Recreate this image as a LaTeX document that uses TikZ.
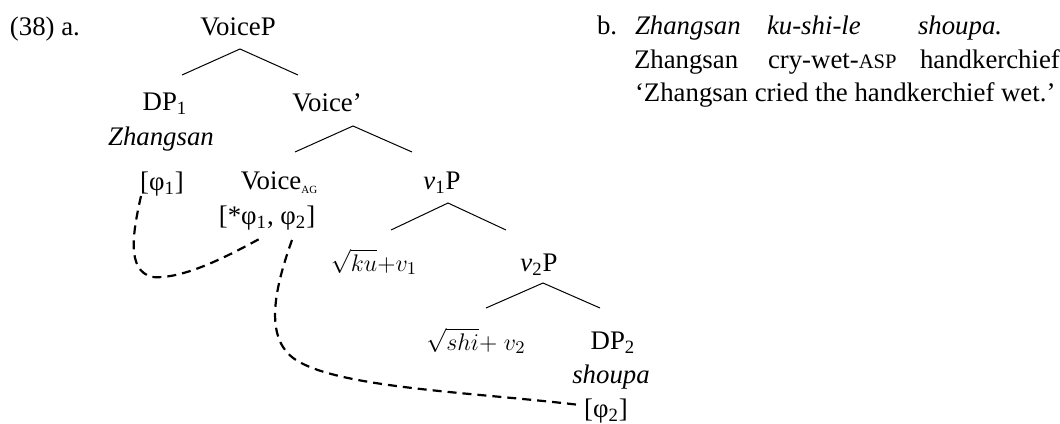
\documentclass[tikz,border=0pt]{standalone}
\usepackage{fontspec}
\setmainfont{Liberation Serif}
\begin{document}
\begin{tikzpicture}[x=0.5pt,y=-0.5pt,
  lbl/.style={anchor=base,inner sep=0pt,outer sep=0pt,font=\fontsize{13.4}{16}\selectfont},
  lblw/.style={anchor=base west,inner sep=0pt,outer sep=0pt,font=\fontsize{13.4}{16}\selectfont},
  branch/.style={line width=0.5pt},
  agree/.style={line width=1.1pt,dash pattern=on 4.5pt off 3pt}]
\useasboundingbox (0,0) rectangle (1060,423);
\newcommand{\sub}[1]{\textsubscript{#1}}
\newcommand{\tinycaps}[1]{\raisebox{-0.35ex}{\fontsize{5.5}{6}\selectfont #1}}
\newcommand{\rootm}[1]{{\fontsize{12.4}{15}\selectfont $#1$}}
% example label
\node[lblw] (ex) at (10,35) {(38) a.};
% tree
\node[lbl] (voicep) at (238,35) {VoiceP};
\node[lbl] (dp1) at (165,110) {DP\sub{1}};
\node[lbl] (voicebar) at (327,111) {Voice’};
\node[lbl] (zs) at (161,145) {\textit{Zhangsan}};
\node[lbl] (phi1) at (162,190) {[φ\sub{1}]};
\node[lbl] (voiceag) at (279,189) {Voice\tinycaps{AG}};
\node[lbl] (v1p) at (442,189) {\textit{v}\sub{1}P};
\node[lbl] (agr) at (267,224) {[*φ\sub{1}, φ\sub{2}]};
\node[lbl] (ku) at (374,271) {\rootm{\sqrt{ku}{+}v_1}};
\node[lbl] (v2p) at (539,271) {\textit{v}\sub{2}P};
\node[lbl] (shi) at (476,350) {\rootm{\sqrt{shi}{+}\;v_2}};
\node[lbl] (dp2) at (613,349) {DP\sub{2}};
\node[lbl] (sp) at (611,383) {\textit{shoupa}};
\node[lbl] (phi2) at (606,417) {[φ\sub{2}]};
% branch coordinates
\coordinate (a1) at (240,49); \coordinate (l1) at (182,75); \coordinate (r1) at (298,75);
\coordinate (a2) at (353,126); \coordinate (l2) at (295,152); \coordinate (r2) at (412,152);
\coordinate (a3) at (448,203); \coordinate (l3) at (391,230); \coordinate (r3) at (506,230);
\coordinate (a4) at (543,283); \coordinate (l4) at (486,308); \coordinate (r4) at (600,308);
\draw[branch] (l1) -- (a1) -- (r1);
\draw[branch] (l2) -- (a2) -- (r2);
\draw[branch] (l3) -- (a3) -- (r3);
\draw[branch] (l4) -- (a4) -- (r4);
% agreement dashed lines
\coordinate (c1s) at (141,196);
\coordinate (c1e) at (263,237);
\coordinate (c2s) at (292,240);
\coordinate (c2e) at (580,405);
\draw[agree] (c1s) .. controls (133,232) and (126,270) .. (152,277)
  .. controls (185,280) and (235,252) .. (c1e);
\draw[agree] (c2s) .. controls (276,285) and (262,338) .. (296,360)
  .. controls (340,388) and (470,392) .. (c2e);
% example b
\node[lblw] (b) at (597,34) {b.};
\node[lblw] (w1) at (635,34) {\textit{Zhangsan}};
\node[lblw] (w2) at (767,34) {\textit{ku-shi-le}};
\node[lblw] (w3) at (918,34) {\textit{shoupa.}};
\node[lblw] (g1) at (634,68) {Zhangsan};
\node[lblw] (g2) at (768,68) {cry-wet-{\fontsize{10.3}{12}\selectfont ASP}};
\node[lblw] (g3) at (920,68) {handkerchief};
\node[lblw] (tr) at (635,101) {‘Zhangsan cried the handkerchief wet.’};
\end{tikzpicture}
\end{document}
